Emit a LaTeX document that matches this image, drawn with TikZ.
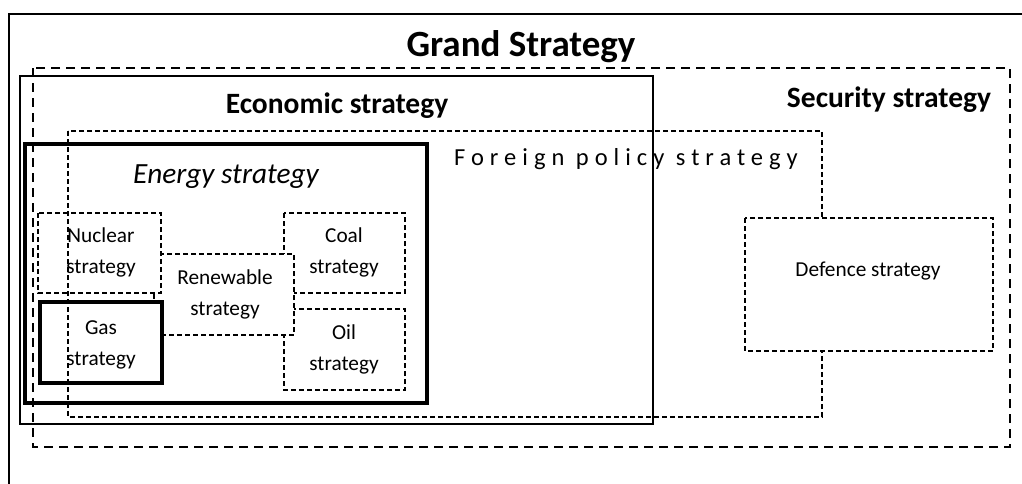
\documentclass[tikz,border=0pt]{standalone}
\usepackage{fontspec}
\setmainfont{Carlito}
\begin{document}
\begin{tikzpicture}[x=1pt, y=-1pt, line join=miter,
	bigdash/.style={line width=2pt, dash pattern=on 9pt off 6pt},
	smalldash/.style={line width=1.5pt, dash pattern=on 5pt off 3pt},
	subbox/.style={smalldash, fill=white},
	boxtext/.style={anchor=base, align=center, font=\fontsize{21.3}{30.5}\selectfont},
	headtext/.style={anchor=base, font=\fontsize{29.5}{32}\selectfont\bfseries}]
	\clip (0,0) rectangle (1022,483);
	\draw[line width=2pt] (9,14) rectangle (1040,510);
	\draw[bigdash] (33,68) rectangle (1010,447);
	\draw[line width=1.4pt] (20,76) rectangle (653,424);
	\draw[line width=3.5pt] (25,144) rectangle (427,403);
	\draw[subbox] (284,213) rectangle (405,293);
	\draw[subbox] (284,309) rectangle (405,390);
	\draw[subbox] (154,254) rectangle (294,335);
	\draw[subbox] (38,213) rectangle (161,293);
	\draw[line width=3.2pt, fill=white] (40,302) rectangle (162,383);
	\draw[smalldash] (68,131) rectangle (822,417);
	\draw[subbox] (745,218) rectangle (993,351);
	\node[anchor=base, font=\fontsize{37}{40}\selectfont\bfseries] (grand) at (521,56) {Grand Strategy};
	\node[headtext] (econ) at (337,113) {Economic strategy};
	\node[headtext] (secu) at (889,107) {Security strategy};
	\node[anchor=base, font=\fontsize{24.5}{27}\selectfont\addfontfeature{LetterSpace=24.5}] (fore) at (626,165) {Foreign policy strategy};
	\node[anchor=base, font=\fontsize{29.3}{32}\selectfont\itshape] (ener) at (226,183) {Energy strategy};
	\node[boxtext] (nucl) at (101,273) {Nuclear\\strategy};
	\node[boxtext] (coal) at (344,273) {Coal\\strategy};
	\node[boxtext] (rene) at (225,315) {Renewable\\strategy};
	\node[boxtext] (gas) at (101,365) {Gas\\strategy};
	\node[boxtext] (oil) at (344,370) {Oil\\strategy};
	\node[boxtext] (defe) at (868,276) {Defence strategy};
\end{tikzpicture}
\end{document}
